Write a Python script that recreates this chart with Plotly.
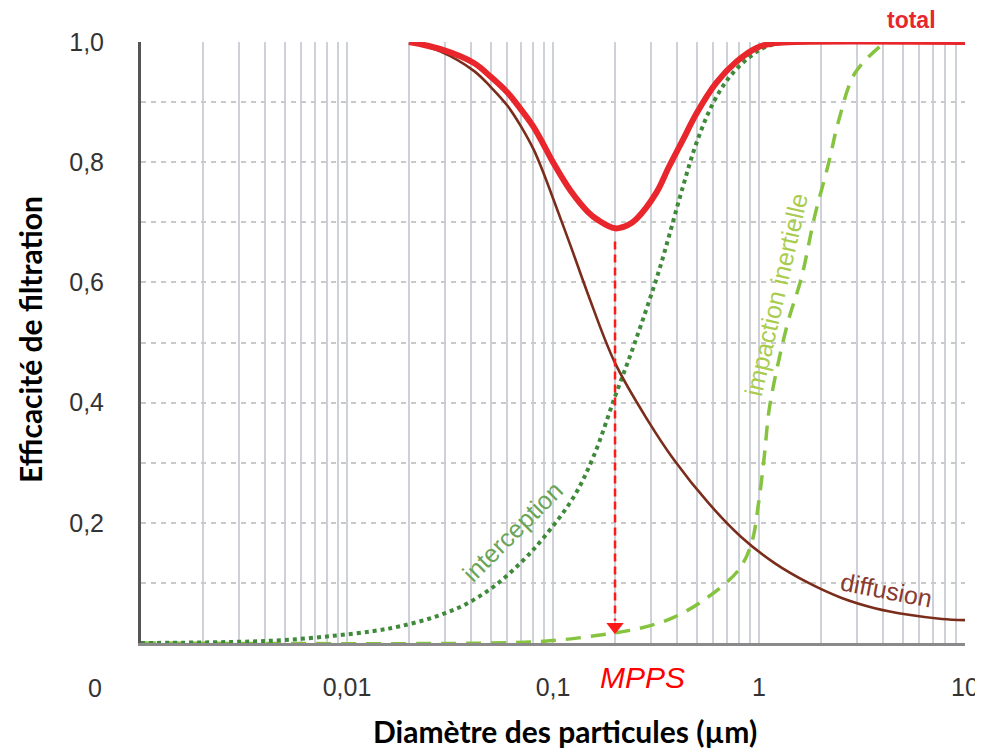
import plotly.graph_objects as go

# ---------------- data ----------------
diffusion_d = [0.02, 0.0285, 0.0413, 0.0499, 0.0604, 0.0698, 0.0808, 0.0904, 0.1, 0.122, 0.148,
               0.2, 0.289, 0.388, 0.568, 0.822, 1.19, 1.74, 2.52, 3.65, 5.33, 7.73, 10]
diffusion_e = [1.0, 0.984, 0.952, 0.925, 0.893, 0.86, 0.82, 0.78, 0.74, 0.66, 0.58,
               0.466, 0.37, 0.304, 0.233, 0.176, 0.133, 0.100, 0.075, 0.058, 0.047, 0.040, 0.038]

interception_d = [0.001, 0.003, 0.005, 0.0086, 0.0135, 0.0182, 0.0264, 0.037, 0.0516, 0.0704,
                  0.0904, 0.126, 0.158, 0.2, 0.248, 0.324, 0.365, 0.427, 0.497, 0.6, 0.72, 0.9,
                  1.08, 1.4]
interception_e = [0.0, 0.002, 0.005, 0.012, 0.02, 0.028, 0.043, 0.063, 0.094, 0.135,
                  0.176, 0.243, 0.312, 0.41, 0.497, 0.615, 0.676, 0.759, 0.832, 0.899, 0.942, 0.975,
                  0.992, 1.0]

impaction_d = [0.001, 0.05, 0.1, 0.2, 0.268, 0.388, 0.568, 0.794, 0.92, 0.995, 1.06, 1.12,
               1.24, 1.39, 1.61, 1.86, 2.18, 2.44, 2.92, 3.94]
impaction_e = [0.0, 0.0, 0.004, 0.017, 0.025, 0.043, 0.077, 0.121, 0.166, 0.233, 0.309, 0.388,
               0.466, 0.537, 0.609, 0.709, 0.799, 0.870, 0.948, 0.995]

total_d = [0.02, 0.0285, 0.0413, 0.0499, 0.0604, 0.0698, 0.08, 0.0875, 0.1, 0.122, 0.148, 0.165,
           0.2, 0.23, 0.253, 0.317, 0.365, 0.427, 0.497, 0.62, 0.776, 0.973, 1.17, 1.5, 10]
total_e = [1.0, 0.988, 0.965, 0.942, 0.915, 0.888, 0.86, 0.837, 0.8, 0.752, 0.717, 0.704,
           0.69, 0.695, 0.705, 0.749, 0.792, 0.837, 0.881, 0.932, 0.967, 0.99, 0.998, 1.0, 1.0]

mpps_d = 0.2
mpps_top = 0.668
mpps_tip = 0.027

x_grid_vals = [k * 10 ** n for n in range(-3, 1) for k in range(1, 10)] + [10]
x_tick_labels = {0.01: "0,01", 0.1: "0,1", 1: "1", 10: "10"}
y_grid_vals = [i / 10 for i in range(0, 11)]
y_tick_labels = {0.2: "0,2", 0.4: "0,4", 0.6: "0,6", 0.8: "0,8", 1.0: "1,0"}

# ---------------- figure ----------------
fig = go.Figure()

SM = 1.0
fig.add_trace(go.Scatter(x=impaction_d, y=impaction_e, mode="lines",
                         line=dict(color="#86c440", width=3.5, dash="15px,10px", shape="spline", smoothing=SM),
                         name="impaction inertielle", cliponaxis=False))
fig.add_trace(go.Scatter(x=interception_d, y=interception_e, mode="lines",
                         line=dict(color="#3f8a3a", width=4, dash="dot", shape="spline", smoothing=SM),
                         name="interception", cliponaxis=False))
fig.add_trace(go.Scatter(x=diffusion_d, y=diffusion_e, mode="lines",
                         line=dict(color="#7b2d1c", width=2.6, shape="spline", smoothing=SM),
                         name="diffusion", cliponaxis=False))
fig.add_trace(go.Scatter(x=total_d, y=total_e, mode="lines",
                         line=dict(color="#e8262b", width=6, shape="spline", smoothing=SM),
                         name="total", cliponaxis=False))

# MPPS arrow
fig.add_trace(go.Scatter(x=[mpps_d, mpps_d], y=[mpps_top, mpps_tip + 0.01], mode="lines",
                         line=dict(color="#ff1a1a", width=2.5, dash="8px,5px"),
                         name="MPPS", cliponaxis=False))
fig.add_trace(go.Scatter(x=[mpps_d], y=[mpps_tip], mode="markers",
                         marker=dict(symbol="triangle-down", size=15, color="#ff1a1a"),
                         name="MPPS tip", cliponaxis=False))

PL, PR, PT, PB = 141, 965, 42, 643   # intended plot-area pixels in the page
PW, PH = PR - PL, PB - PT


def px(xp):
    return (xp - PL) / PW


def py(yp):
    return (PB - yp) / PH


lab_font = "Liberation Sans, Arial, sans-serif"
title_font = "Lato, sans-serif"


def note(xp, yp, text, size, color, angle=0, family=lab_font):
    return dict(xref="paper", yref="paper", x=px(xp), y=py(yp), text=text, textangle=angle,
                xanchor="center", yanchor="middle", showarrow=False,
                font=dict(family=family, size=size, color=color))


annotations = [
    note(911, 20, "<b>total</b>", 23, "#e8262b"),
    note(512, 532, "interception", 25, "#6aa557", -45),
    note(776, 295, "impaction inertielle", 25, "#a9cc4e", -77),
    note(886, 590, "diffusion", 25, "#8a3a2e", 11),
    note(642, 677, "<i>MPPS</i>", 30, "#ff0000"),
    note(95, 688, "0", 25, "#333333"),
    note(565, 731, "<b>Diamètre des particules (µm)</b>", 30, "#000000", 0, title_font),
    note(30, 340, "<b>Efficacité de filtration</b>", 30, "#000000", -90, title_font),
]

# the page body has an 8px margin, so the figure is drawn from (8, 8)
OFF = 8
W, H = 983 - OFF, 750 - OFF
fig.update_layout(
    width=W, height=H, autosize=False,
    margin=dict(l=PL - OFF, r=W + OFF - PR, t=PT - OFF, b=H + OFF - PB),
    paper_bgcolor="white", plot_bgcolor="white",
    showlegend=False,
    annotations=annotations,
)

fig.update_xaxes(
    type="log", range=[-3, 1],
    tickvals=x_grid_vals,
    ticktext=[x_tick_labels.get(round(v, 6), "") for v in x_grid_vals],
    showgrid=True, gridcolor="#cfd1d8", gridwidth=2,
    showline=True, linecolor="#8a8a8a", linewidth=3,
    ticks="", ticklabelstandoff=20, ticklabeloverflow="allow",
    tickfont=dict(family=lab_font, size=25, color="#333333"),
    zeroline=False, automargin=False,
)
fig.update_yaxes(
    range=[0, 1],
    tickvals=y_grid_vals,
    ticktext=[y_tick_labels.get(round(v, 2), "") for v in y_grid_vals],
    showgrid=True, gridcolor="#c9c9c9", gridwidth=2, griddash="5px,5px",
    showline=True, linecolor="#555555", linewidth=3,
    ticks="", ticklabelstandoff=29,
    tickfont=dict(family=lab_font, size=25, color="#333333"),
    zeroline=False, automargin=False,
)

fig.write_html("out.html")
